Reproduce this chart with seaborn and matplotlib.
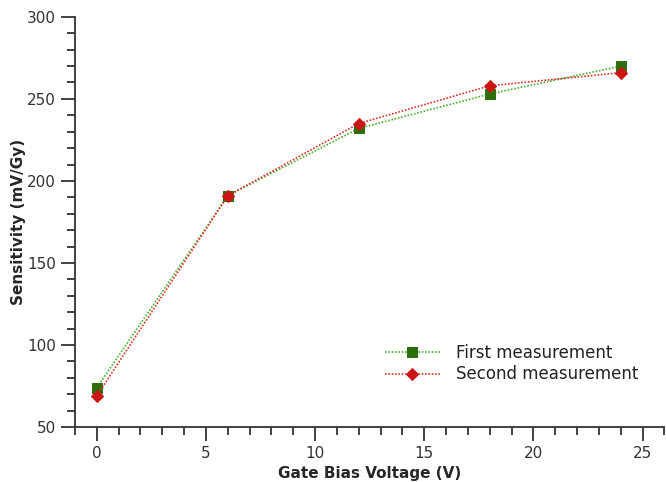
import matplotlib
matplotlib.use("Agg")
import matplotlib.pyplot as plt
import seaborn as sns
import pandas as pd
from matplotlib.ticker import MultipleLocator

voltage = [0, 6, 12, 18, 24]
first = [74, 191, 232, 253, 270]
second = [69, 191, 235, 258, 266]
series_names = ["First measurement", "Second measurement"]

sns.set_theme(style="ticks")
plt.rcParams['font.family'] = ['DejaVu Sans']

df = pd.DataFrame({
    "Gate Bias Voltage (V)": voltage * 2,
    "Sensitivity (mV/Gy)": first + second,
    "series": [series_names[0]] * len(voltage) + [series_names[1]] * len(voltage),
})

fig = plt.figure(figsize=(6.66, 4.82), dpi=100)
ax = fig.add_axes([0.1126, 0.114, 0.885, 0.851])

line_colors = {series_names[0]: "#4caf30", series_names[1]: "#e0302a"}
marker_colors = {series_names[0]: "#2d6e0e", series_names[1]: "#cc1515"}
markers = {series_names[0]: "s", series_names[1]: "D"}
msize = {series_names[0]: 7, series_names[1]: 6}

for name in series_names:
    sub = df[df["series"] == name]
    sns.lineplot(data=sub, x="Gate Bias Voltage (V)", y="Sensitivity (mV/Gy)", ax=ax,
                 color=line_colors[name], linestyle=(0, (1, 1)), linewidth=1.2,
                 marker=markers[name], markersize=msize[name],
                 markerfacecolor=marker_colors[name], markeredgecolor=marker_colors[name],
                 label=name)

ax.set_xlim(-1, 26)
ax.set_ylim(50, 300)
ax.xaxis.set_major_locator(MultipleLocator(5))
ax.xaxis.set_minor_locator(MultipleLocator(1))
ax.yaxis.set_major_locator(MultipleLocator(50))
ax.yaxis.set_minor_locator(MultipleLocator(10))
ax.tick_params(which="major", length=10, width=1.3, color="#333333", labelsize=11, labelcolor="#333333", direction="out")
ax.tick_params(which="minor", length=6, width=1.3, color="#333333", direction="out")
for s in ["top", "right"]:
    ax.spines[s].set_visible(False)
for s in ["left", "bottom"]:
    ax.spines[s].set_linewidth(1.3)
    ax.spines[s].set_color("#333333")

ax.set_xlabel("Gate Bias Voltage (V)", fontsize=11, fontweight="bold", labelpad=4)
ax.set_ylabel("Sensitivity (mV/Gy)", fontsize=11, fontweight="bold", labelpad=1)

leg = ax.legend(loc="lower right", bbox_to_anchor=(0.982, 0.07), frameon=False, fontsize=12,
                handlelength=3.3, handletextpad=1.0, labelspacing=0.2)
for t in leg.get_texts():
    t.set_color("#222222")

fig.savefig("out.png", dpi=100)
